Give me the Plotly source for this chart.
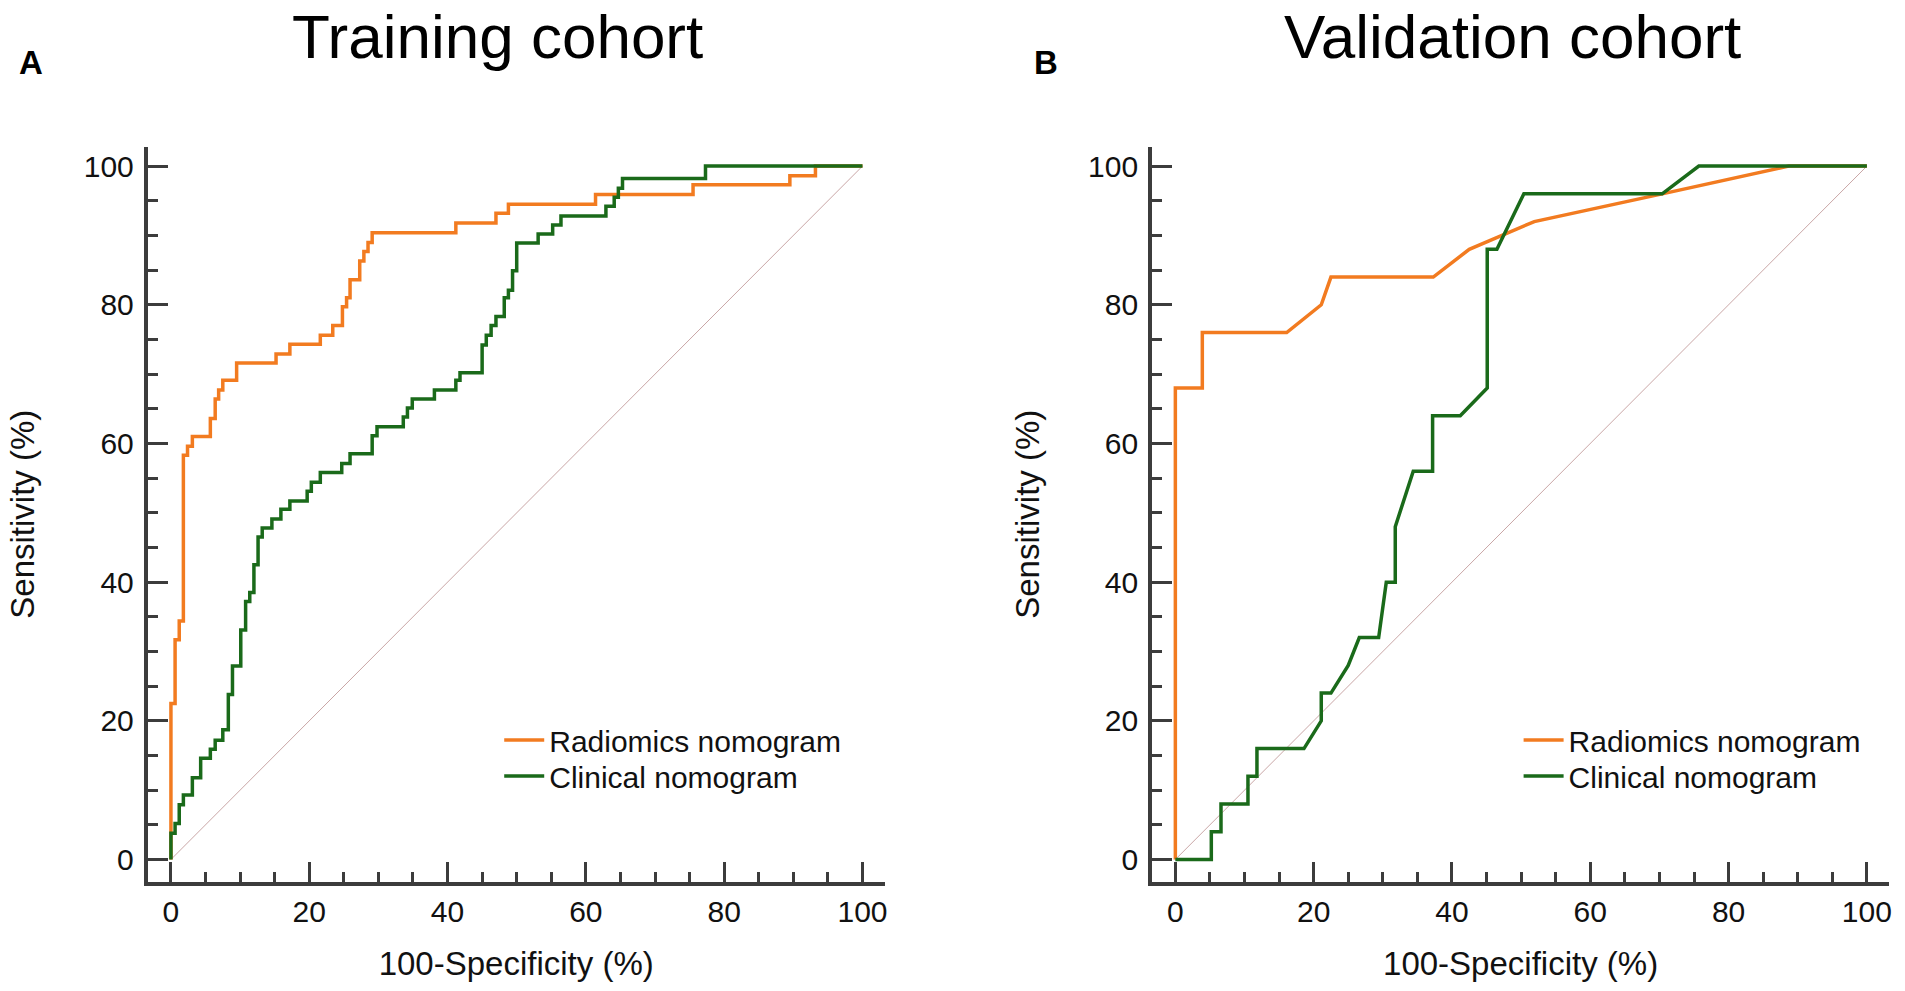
import plotly.graph_objects as go

# ---------------- data ----------------
train_rad_fpr = [0, 0, 0.6, 1.2, 1.8, 2.4, 3.1, 5.7, 6.4, 6.9, 7.5, 9.5, 15.2, 17.2, 21.6, 23.4,
                 24.8, 25.4, 25.9, 27.3, 27.9, 28.5, 29.1, 41.2, 47.0, 48.8, 61.4, 75.5, 89.5, 93.2, 100]
train_rad_tpr = [0, 22.5, 31.7, 34.4, 58.3, 59.6, 61.0, 63.6, 66.4, 67.7, 69.1, 71.6, 72.9, 74.3, 75.6, 77.0,
                 79.7, 81.0, 83.6, 86.3, 87.7, 89.0, 90.4, 91.8, 93.2, 94.5, 95.9, 97.3, 98.6, 100, 100]

train_cli_fpr = [0, 0, 0.6, 1.2, 1.8, 3.1, 4.3, 5.7, 6.4, 7.5, 8.3, 8.9, 10.1, 10.8, 11.4, 12.0, 12.6,
                 13.2, 14.6, 15.9, 17.2, 19.7, 20.3, 21.6, 24.7, 25.9, 29.1, 29.8, 33.6, 34.2, 34.9,
                 38.1, 41.2, 41.8, 45.0, 45.6, 46.3, 47.0, 48.2, 48.8, 49.4, 50.0, 53.1, 55.2, 56.4,
                 62.9, 64.1, 64.7, 65.3, 77.3, 100]
train_cli_tpr = [0, 3.8, 5.2, 7.9, 9.3, 11.8, 14.6, 15.9, 17.2, 18.7, 23.8, 27.9, 33.1, 37.2, 38.5, 42.5, 46.5,
                 47.8, 49.1, 50.5, 51.7, 53.1, 54.4, 55.8, 57.1, 58.5, 61.1, 62.4, 63.8, 65.1, 66.4,
                 67.7, 69.1, 70.2, 74.2, 75.6, 77.0, 78.3, 81.0, 82.1, 84.9, 88.9, 90.2, 91.5, 92.8,
                 94.2, 95.5, 96.8, 98.2, 100, 100]

valid_rad_fpr = [0, 0, 3.9, 3.9, 16.1, 21.1, 22.5, 37.3, 42.5, 51.9, 70.4, 88.7, 100]
valid_rad_tpr = [0, 68, 68, 76, 76, 80, 84, 84, 88, 92, 96, 100, 100]

valid_cli_fpr = [0, 5.2, 5.2, 6.6, 6.6, 10.5, 10.5, 11.8, 11.8, 18.6, 21.1, 21.1, 22.5, 25.0, 26.6,
                 29.4, 30.5, 31.8, 31.8, 34.4, 37.2, 37.2, 41.2, 45.1, 45.1, 46.5, 50.4, 70.4, 75.7, 100]
valid_cli_tpr = [0, 0, 4, 4, 8, 8, 12, 12, 16, 16, 20, 24, 24, 28, 32,
                 32, 40, 40, 48, 56, 56, 64, 64, 68, 88, 88, 96, 96, 100, 100]

ref_line = [0, 100]
tick_vals = [0, 20, 40, 60, 80, 100]

panel_titles = ["Training cohort", "Validation cohort"]
panel_letters = ["A", "B"]
series_names = ["Radiomics nomogram", "Clinical nomogram"]

# ---------------- style ----------------
ORANGE = "#F27B20"
GREEN = "#1A6A1A"
DIAG = "#C9A6A6"
AXIS = "#3C3C3C"
FONT = "Liberation Sans, Arial, sans-serif"
W, H = 1905, 991

fig = go.Figure()

# Panel A
fig.add_trace(go.Scatter(x=ref_line, y=ref_line, mode="lines", line=dict(color=DIAG, width=1),
                         showlegend=False, hoverinfo="skip", xaxis="x", yaxis="y"))
fig.add_trace(go.Scatter(x=train_rad_fpr, y=train_rad_tpr, mode="lines", name=series_names[0],
                         line=dict(color=ORANGE, width=3.5, shape="hv"), xaxis="x", yaxis="y",
                         legend="legend"))
fig.add_trace(go.Scatter(x=train_cli_fpr, y=train_cli_tpr, mode="lines", name=series_names[1],
                         line=dict(color=GREEN, width=3.5, shape="hv"), xaxis="x", yaxis="y",
                         legend="legend2"))
# Panel B
fig.add_trace(go.Scatter(x=ref_line, y=ref_line, mode="lines", line=dict(color=DIAG, width=1),
                         showlegend=False, hoverinfo="skip", xaxis="x2", yaxis="y2"))
fig.add_trace(go.Scatter(x=valid_rad_fpr, y=valid_rad_tpr, mode="lines", name=series_names[0],
                         line=dict(color=ORANGE, width=3.5), xaxis="x2", yaxis="y2",
                         legend="legend3"))
fig.add_trace(go.Scatter(x=valid_cli_fpr, y=valid_cli_tpr, mode="lines", name=series_names[1],
                         line=dict(color=GREEN, width=3.5), xaxis="x2", yaxis="y2",
                         legend="legend4"))


def axis_common(title, standoff):
    return dict(
        showline=True, linecolor=AXIS, linewidth=4,
        ticks="inside", ticklen=20, tickwidth=3, tickcolor=AXIS,
        tickvals=tick_vals, showgrid=False, zeroline=False,
        tickfont=dict(family=FONT, size=30, color="#111111"),
        minor=dict(ticks="inside", ticklen=10, tickwidth=2.5, tickcolor=AXIS, dtick=5, tick0=0,
                   showgrid=False),
        title=dict(text=title, font=dict(family=FONT, size=33, color="#111111"), standoff=standoff),
        fixedrange=True,
    )


def legend_box(x_px, y_px):
    return dict(x=x_px / W, y=1 - y_px / H, xanchor="left", yanchor="top",
                font=dict(family=FONT, size=30, color="#111111"), bgcolor="rgba(0,0,0,0)",
                itemwidth=40)


xr = [-3.35, 103.2]
yr = [-3.2, 102.8]
ydom = [1 - 881.7 / H, 1 - 146.7 / H]

fig.update_layout(
    width=W, height=H, autosize=False,
    margin=dict(l=0, r=0, t=0, b=0),
    paper_bgcolor="white", plot_bgcolor="white",
    font=dict(family=FONT, color="#111111"),
    xaxis=dict(axis_common("100-Specificity (%)", 26), domain=[148 / W, 886 / W], range=xr,
               anchor="y", ticklabelstandoff=0),
    yaxis=dict(axis_common("Sensitivity (%)", 40), domain=ydom, range=yr, anchor="x",
               ticklabelstandoff=4),
    xaxis2=dict(axis_common("100-Specificity (%)", 26), domain=[1154 / W, 1892 / W], range=xr,
                anchor="y2", ticklabelstandoff=0),
    yaxis2=dict(axis_common("Sensitivity (%)", 40), domain=ydom, range=yr, anchor="x2",
                ticklabelstandoff=4),
    legend=legend_box(500, 714),
    legend2=legend_box(500, 750),
    legend3=legend_box(1521, 714),
    legend4=legend_box(1521, 750),
    showlegend=True,
)

title_x = [498 / W, 1515 / W]
letter_x = [31 / W, 1048 / W]
for i in range(2):
    fig.add_annotation(text=panel_titles[i], x=title_x[i], y=1.0, xref="paper", yref="paper",
                       xanchor="center", yanchor="top", showarrow=False,
                       font=dict(family=FONT, size=62, color="#000000"))
    fig.add_annotation(text="<b>" + panel_letters[i] + "</b>", x=letter_x[i], y=1 - 63 / H,
                       xref="paper", yref="paper", xanchor="center", yanchor="middle", showarrow=False,
                       font=dict(family=FONT, size=33, color="#000000"))

fig.write_html("out.html", config={"displayModeBar": False},
               post_script="document.body.style.margin='0';document.body.style.overflow='hidden';")
